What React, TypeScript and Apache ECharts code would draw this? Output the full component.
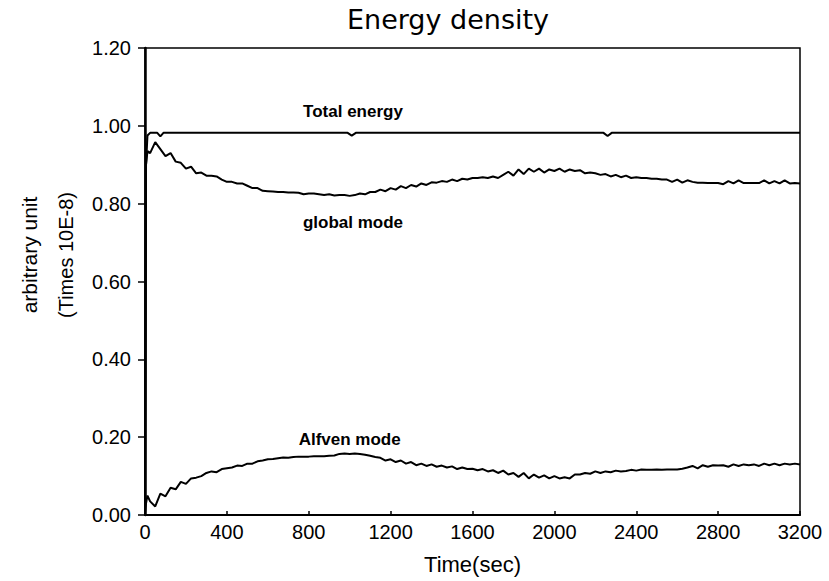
import React, { useEffect, useRef } from "react";
import * as echarts from "echarts";

const times = [
  0, 5, 12,
  25, 50, 75, 100, 125, 150, 175, 200,
  225, 250, 275, 300, 325, 350, 375, 400,
  425, 450, 475, 500, 525, 550, 575, 600,
  625, 650, 675, 700, 725, 750, 775, 800,
  825, 850, 875, 900, 925, 950, 975, 1000,
  1025, 1050, 1075, 1100, 1125, 1150, 1175, 1200,
  1225, 1250, 1275, 1300, 1325, 1350, 1375, 1400,
  1425, 1450, 1475, 1500, 1525, 1550, 1575, 1600,
  1625, 1650, 1675, 1700, 1725, 1750, 1775, 1800,
  1825, 1850, 1875, 1900, 1925, 1950, 1975, 2000,
  2025, 2050, 2075, 2100, 2125, 2150, 2175, 2200,
  2225, 2250, 2275, 2300, 2325, 2350, 2375, 2400,
  2425, 2450, 2475, 2500, 2525, 2550, 2575, 2600,
  2625, 2650, 2675, 2700, 2725, 2750, 2775, 2800,
  2825, 2850, 2875, 2900, 2925, 2950, 2975, 3000,
  3025, 3050, 3075, 3100, 3125, 3150, 3175, 3200,
];

const globalMode = [
  0.0, 0.9, 0.935,
  0.93, 0.958, 0.94, 0.922, 0.93, 0.908, 0.905, 0.89,
  0.895, 0.878, 0.88, 0.872, 0.872, 0.87, 0.862, 0.856,
  0.856, 0.852, 0.852, 0.846, 0.84, 0.84, 0.833, 0.832,
  0.831, 0.83, 0.83, 0.829, 0.829, 0.828, 0.824, 0.826,
  0.826, 0.824, 0.822, 0.824, 0.821, 0.822, 0.822, 0.82,
  0.822, 0.826, 0.824, 0.83, 0.83, 0.836, 0.832, 0.84,
  0.836, 0.845, 0.84, 0.848, 0.844, 0.852, 0.848, 0.855,
  0.854, 0.858, 0.856, 0.862, 0.858, 0.864, 0.862, 0.866,
  0.866, 0.868, 0.866, 0.87, 0.866, 0.874, 0.882, 0.872,
  0.888, 0.876, 0.89, 0.882, 0.89, 0.88, 0.888, 0.884,
  0.89, 0.882, 0.888, 0.884, 0.886, 0.878, 0.88, 0.878,
  0.874, 0.876, 0.87, 0.874, 0.868, 0.872, 0.866, 0.868,
  0.866, 0.866, 0.864, 0.864, 0.862, 0.862, 0.856, 0.862,
  0.854, 0.86, 0.856, 0.854, 0.854, 0.853, 0.853, 0.853,
  0.85, 0.858, 0.852, 0.86, 0.853, 0.853, 0.853, 0.853,
  0.86, 0.852, 0.858, 0.852, 0.86, 0.852, 0.853, 0.852,
];

const alfvenMode = [
  0.005, 0.03, 0.05,
  0.035, 0.022, 0.055, 0.048, 0.07, 0.066, 0.085, 0.08,
  0.094, 0.096, 0.1, 0.108, 0.112, 0.11, 0.118, 0.12,
  0.122, 0.127, 0.126, 0.132, 0.132, 0.138, 0.14, 0.143,
  0.144, 0.146, 0.148, 0.147, 0.149, 0.15, 0.15, 0.15,
  0.151, 0.151, 0.151, 0.152, 0.153, 0.157, 0.158, 0.157,
  0.158, 0.157, 0.155, 0.152, 0.149, 0.147, 0.14, 0.143,
  0.136, 0.14, 0.132, 0.136, 0.128, 0.132, 0.126, 0.13,
  0.124, 0.127, 0.122, 0.125, 0.118, 0.122, 0.118, 0.119,
  0.115, 0.118, 0.112, 0.115, 0.108, 0.114, 0.104, 0.108,
  0.098, 0.108, 0.094, 0.104, 0.096, 0.102, 0.094, 0.1,
  0.094, 0.097, 0.094, 0.104, 0.104, 0.108, 0.106, 0.112,
  0.108, 0.112, 0.11, 0.114, 0.112, 0.113, 0.116, 0.114,
  0.117, 0.116, 0.116, 0.117, 0.116, 0.117, 0.117, 0.117,
  0.119, 0.122, 0.126, 0.12, 0.128, 0.124, 0.128, 0.127,
  0.128, 0.124, 0.13, 0.126, 0.13, 0.128, 0.13, 0.126,
  0.132, 0.128, 0.132, 0.128, 0.132, 0.13, 0.132, 0.13,
];

const totalTimes = [0, 5, 12, 25, 60, 75, 90, 990, 1010, 1030, 2240, 2260, 2280, 3200];
const totalEnergy = [0.0, 0.9, 0.975, 0.982, 0.982, 0.973, 0.982, 0.982, 0.975, 0.982, 0.982, 0.974, 0.982, 0.982];

const xTicks = { min: 0, max: 3200, interval: 400 };
const yTicks = { min: 0, max: 1.2, interval: 0.2 };

const labels = [
  { text: "Total energy", t: 1016, v: 1.036 },
  { text: "global mode", t: 1016, v: 0.752 },
  { text: "Alfven mode", t: 1000, v: 0.193 },
];

const FONT = "'Liberation Sans', Arial, Helvetica, sans-serif";

export default function App() {
  const ref = useRef<HTMLDivElement>(null);
  useEffect(() => {
    if (!ref.current) return;
    const chart = echarts.init(ref.current, null, { renderer: "svg" });
    const pair = (ts: number[], vs: number[]) => ts.map((t, i) => [t, vs[i]]);
    const lineStyle = { color: "#000", width: 2 };
    chart.setOption({
      animation: false,
      backgroundColor: "#fff",
      grid: {
        left: 145,
        right: 29,
        top: 48,
        bottom: 66,
        show: true,
        borderColor: "#000",
        borderWidth: 1.5,
        backgroundColor: "transparent",
      },
      graphic: [
        {
          type: "text",
          x: 448,
          y: 19,
          style: {
            text: "Energy density",
            fontFamily: "'DejaVu Sans', sans-serif",
            fontSize: 27,
            fill: "#000",
            align: "center",
            verticalAlign: "middle",
          },
        },
        {
          type: "text",
          x: 29,
          y: 255,
          rotation: Math.PI / 2,
          style: {
            text: "arbitrary unit",
            fontFamily: FONT,
            fontSize: 21,
            fill: "#000",
            align: "center",
            verticalAlign: "middle",
          },
        },
        {
          type: "text",
          x: 66,
          y: 255,
          rotation: Math.PI / 2,
          style: {
            text: "(Times 10E-8)",
            fontFamily: FONT,
            fontSize: 20,
            fill: "#000",
            align: "center",
            verticalAlign: "middle",
          },
        },
      ],
      xAxis: {
        type: "value",
        min: xTicks.min,
        max: xTicks.max,
        interval: xTicks.interval,
        name: "Time(sec)",
        nameLocation: "middle",
        nameGap: 38,
        nameTextStyle: { fontFamily: FONT, fontSize: 22, color: "#000" },
        axisLine: { show: true, onZero: false, lineStyle: { color: "#000", width: 2 } },
        axisTick: { show: true, inside: true, length: 4, lineStyle: { color: "#000", width: 1.5 } },
        axisLabel: {
          fontFamily: FONT,
          fontSize: 20,
          color: "#000",
          margin: 7,
          formatter: (v: number) => String(v),
        },
        splitLine: { show: false },
      },
      yAxis: {
        type: "value",
        min: yTicks.min,
        max: yTicks.max,
        interval: yTicks.interval,
        axisLine: { show: true, onZero: false, lineStyle: { color: "#000", width: 2.5 } },
        axisTick: { show: true, inside: false, length: 7, lineStyle: { color: "#000", width: 1.5 } },
        axisLabel: {
          fontFamily: FONT,
          fontSize: 20,
          color: "#000",
          margin: 14,
          formatter: (v: number) => v.toFixed(2),
        },
        splitLine: { show: false },
      },
      series: [
        {
          name: "Total energy",
          type: "line",
          data: pair(totalTimes, totalEnergy),
          showSymbol: false,
          lineStyle,
          silent: true,
          markPoint: {
            symbol: "circle",
            symbolSize: 1,
            itemStyle: { color: "transparent" },
            silent: true,
            label: {
              show: true,
              position: "inside",
              fontFamily: FONT,
              fontSize: 17,
              fontWeight: "bold",
              color: "#000",
              formatter: (p: any) => p.name,
            },
            data: labels.map((l) => ({ name: l.text, coord: [l.t, l.v] })),
          },
        },
        {
          name: "global mode",
          type: "line",
          data: pair(times, globalMode),
          showSymbol: false,
          lineStyle,
          silent: true,
        },
        {
          name: "Alfven mode",
          type: "line",
          data: pair(times, alfvenMode),
          showSymbol: false,
          lineStyle,
          silent: true,
        },
      ],
    });
    return () => chart.dispose();
  }, []);
  return (
    <div
      ref={ref}
      style={{ position: "fixed", left: 0, top: 0, width: 829, height: 581 }}
    />
  );
}
